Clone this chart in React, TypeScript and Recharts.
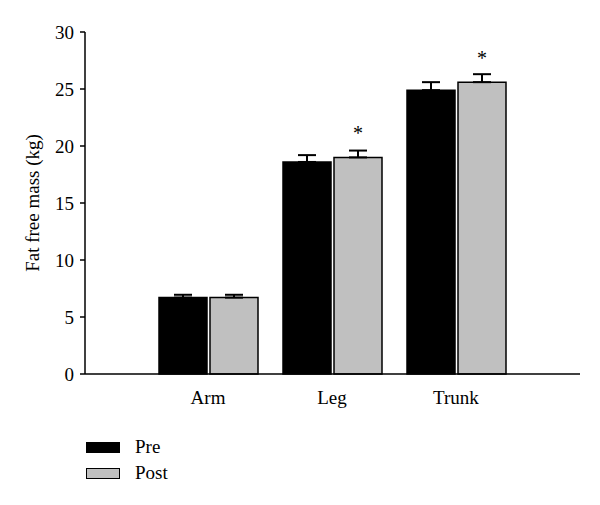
import React from 'react';
import { BarChart, Bar, XAxis, YAxis, ErrorBar, LabelList, Legend } from 'recharts';

const categories = ['Arm', 'Leg', 'Trunk'];
const preValues = [6.7, 18.6, 24.9];
const postValues = [6.7, 19.0, 25.6];
const preErrors = [0.25, 0.6, 0.7];
const postErrors = [0.25, 0.6, 0.7];
const postMarks = ['', '*', '*'];
const yTicks = [0, 5, 10, 15, 20, 25, 30];

const data = categories.map((name, i) => ({
  name,
  pre: preValues[i],
  post: postValues[i],
  preErr: [0, preErrors[i]],
  postErr: [0, postErrors[i]],
  mark: postMarks[i],
}));

const FONT = '"Liberation Serif", "DejaVu Serif", serif';

const legendItems = [
  { label: 'Pre', color: '#000000' },
  { label: 'Post', color: '#c0c0c0' },
];

const renderLegend = () => (
  <div style={{ fontFamily: FONT, fontSize: 19, color: '#000' }}>
    {legendItems.map((it) => (
      <div key={it.label} style={{ display: 'flex', alignItems: 'center', height: 26 }}>
        <span
          style={{
            display: 'inline-block',
            width: 32,
            height: 9,
            background: it.color,
            border: '1px solid #000',
            marginRight: 15,
          }}
        />
        {it.label}
      </div>
    ))}
  </div>
);

const Star = (props: any) => {
  const { x, y, width, value } = props;
  if (!value) return null;
  return (
    <text
      x={x + width / 2}
      y={y - 17}
      textAnchor="middle"
      fontFamily={FONT}
      fontSize={20}
      fill="#000"
    >
      {value}
    </text>
  );
};

export default function App() {
  return (
    <div style={{ position: 'absolute', left: 0, top: 0, background: '#fff' }}>
      <BarChart
        width={600}
        height={505}
        data={data}
        margin={{ top: 32, right: 20, left: 0, bottom: 101 }}
        barSize={48}
        barGap={3}
      >
        <XAxis
          dataKey="name"
          padding={{ left: 61, right: 62 }}
          tickLine={false}
          axisLine={{ stroke: '#000', strokeWidth: 1.5 }}
          tick={{ fill: '#000', fontSize: 19, fontFamily: FONT }}
          tickMargin={11}
          height={30}
        />
        <YAxis
          width={85}
          domain={[0, 30]}
          ticks={yTicks}
          interval={0}
          axisLine={{ stroke: '#000', strokeWidth: 1.5 }}
          tickLine={{ stroke: '#000', strokeWidth: 1.5 }}
          tickSize={5}
          tickMargin={6}
          tick={{ fill: '#000', fontSize: 19, fontFamily: FONT }}
          label={{
            value: 'Fat free mass (kg)',
            angle: -90,
            position: 'insideLeft',
            dx: 27,
            dy: 0,
            style: { textAnchor: 'middle', fill: '#000', fontSize: 19, fontFamily: FONT },
          }}
        />
        <Legend
          content={renderLegend}
          layout="horizontal"
          verticalAlign="middle"
          wrapperStyle={{ position: 'absolute', left: 86, top: 434, width: 150 }}
        />
        <Bar dataKey="pre" name="Pre" fill="#000000" stroke="#000" strokeWidth={1.5} isAnimationActive={false}>
          <ErrorBar dataKey="preErr" width={9} stroke="#000" strokeWidth={2} direction="y" />
        </Bar>
        <Bar dataKey="post" name="Post" fill="#c0c0c0" stroke="#000" strokeWidth={1.5} isAnimationActive={false}>
          <ErrorBar dataKey="postErr" width={9} stroke="#000" strokeWidth={2} direction="y" />
          <LabelList dataKey="mark" content={Star} />
        </Bar>
      </BarChart>
    </div>
  );
}
